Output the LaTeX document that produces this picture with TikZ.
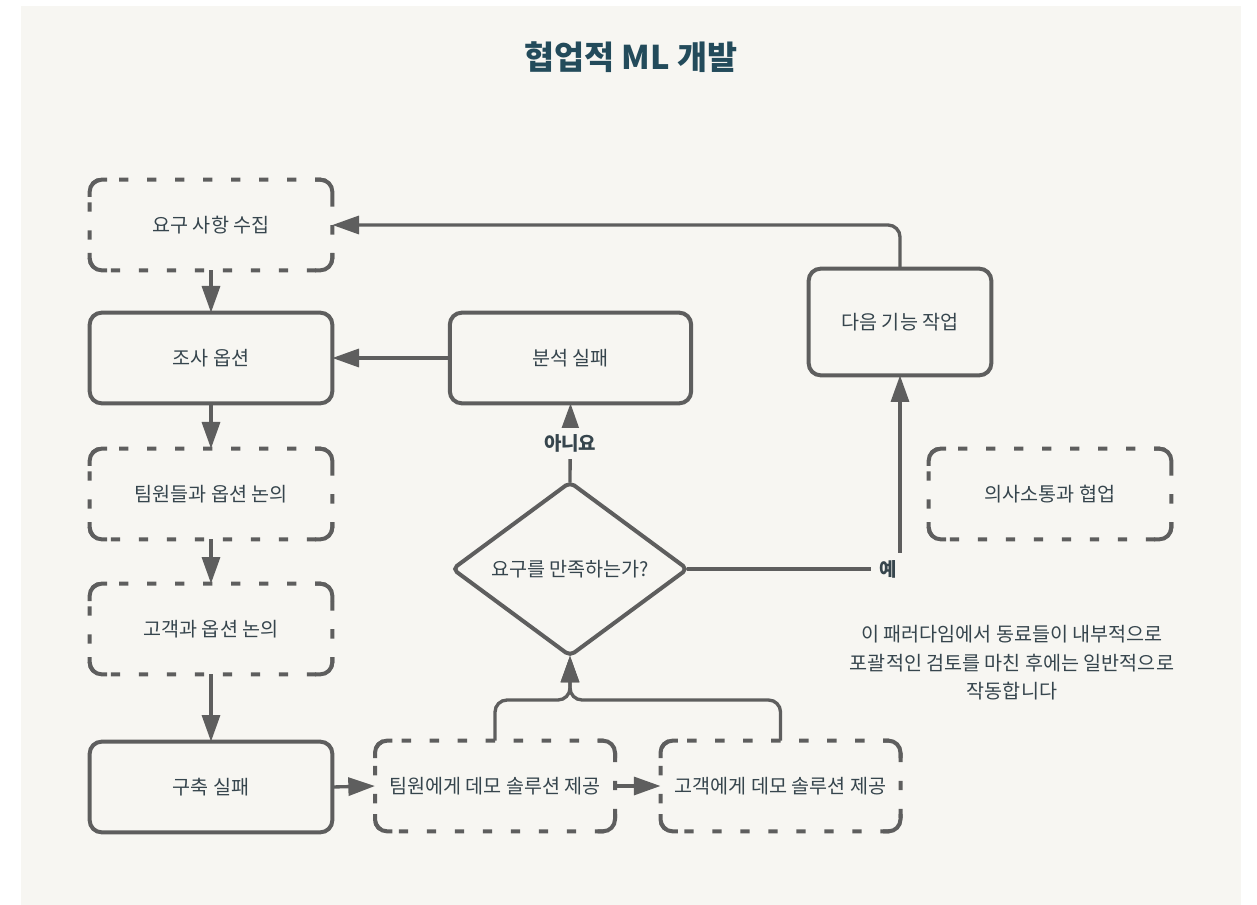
\documentclass[tikz,border=0pt]{standalone}
\usepackage{fontspec}
\setmainfont{Noto Sans CJK KR}
\usetikzlibrary{arrows.meta,shapes.geometric}

\definecolor{panel}{HTML}{F7F6F2}
\definecolor{stroke}{HTML}{5E5E5E}
\definecolor{ink}{HTML}{36454D}
\definecolor{titleink}{HTML}{234B5B}

% solid rounded corners laid over a dashed box
\newcommand\boxcorners[1]{%
  \draw[cornerline] ([yshift=-13pt]#1.north west) |- ([xshift=13pt]#1.north west);
  \draw[cornerline] ([xshift=-13pt]#1.north east) -| ([yshift=-13pt]#1.north east);
  \draw[cornerline] ([yshift=13pt]#1.south west) |- ([xshift=13pt]#1.south west);
  \draw[cornerline] ([xshift=-13pt]#1.south east) -| ([yshift=13pt]#1.south east);
}

\begin{document}
\begin{tikzpicture}[x=0.75pt,y=-0.75pt,
  every node/.style={font=\fontsize{14.7}{18}\selectfont, text=ink},
  box/.style={draw=stroke, line width=3pt, rounded corners=9pt,
    minimum width=182pt, minimum height=68pt, inner sep=0pt, outer sep=0pt},
  dbox/.style={box, dash pattern=on 7pt off 14pt, dash phase=3pt},
  cornerline/.style={draw=stroke, line width=3pt, rounded corners=9pt, line cap=butt},
  link/.style={draw=stroke, line width=2.5pt,
    -{Triangle[length=20pt,width=13.5pt]}},
  lbl/.style={fill=panel, font=\bfseries\fontsize{14.2}{17}\selectfont,
    inner xsep=6pt, inner ysep=5pt}
]
% canvas and panel
\useasboundingbox (0,0) rectangle (1257,905);
\fill[white] (0,0) rectangle (1257,905);
\fill[panel] (21,6) rectangle (1241,905);

% title
\node[font=\bfseries\fontsize{24.5}{28}\selectfont, text=titleink] (title) at (631,57) {협업적 ML 개발};

% left column
\node[dbox] (req)   at (211,225) {요구 사항 수집};
\node[box]  (opt)   at (211,358) {조사 옵션};
\node[dbox] (team)  at (211,494) {팀원들과 옵션 논의};
\node[dbox] (cust)  at (211,629) {고객과 옵션 논의};
\node[box]  (build) at (211,787) {구축 실패};

% middle and right
\node[box, minimum width=181pt] (fail) at (570.5,358) {분석 실패};
\node[diamond, draw=stroke, line width=3pt, rounded corners=4pt,
  minimum width=176pt, minimum height=130pt, inner sep=0pt, outer sep=0pt,
  aspect=1.36] (dec) at (570,569) {요구를 만족하는가?};
\node[box, minimum width=137pt, minimum height=80pt] (next) at (900,322) {다음 기능 작업};
\node[dbox] (comm) at (1050,494) {의사소통과 협업};
\node[dbox, minimum width=180pt] (demo1) at (495,786) {팀원에게 데모 솔루션 제공};
\node[dbox, minimum width=180pt] (demo2) at (780.5,786) {고객에게 데모 솔루션 제공};

\boxcorners{req}
\boxcorners{team}
\boxcorners{cust}
\boxcorners{comm}
\boxcorners{demo1}
\boxcorners{demo2}

% note
\node[align=center, font=\fontsize{14.7}{21.4}\selectfont] (note) at (1012,663)
  {이 패러다임에서 동료들이 내부적으로\\포괄적인 검토를 마친 후에는 일반적으로\\작동합니다};

% connectors
\draw[link] (req.south) -- (opt.north);
\draw[link] (opt.south) -- (team.north);
\draw[link] (team.south) -- (cust.north);
\draw[link] (cust.south) -- (build.north);
\draw[link] (build.east) -- (demo1.west);
\draw[link] (demo1.east) -- (demo2.west);

\coordinate (join) at (570,700);
\draw[link, rounded corners=9pt] (demo1.north) |- (join) -- (dec.south);
\draw[link, rounded corners=9pt] (demo2.north) |- (join) -- (dec.south);

\draw[link] (dec.north) -- node[lbl, pos=0.49] (no) {아니요} (fail.south);
\draw[link] (fail.west) -- (opt.east);

\draw[link] (dec.east) -- (dec.east -| next.south)
  node[lbl, xshift=-9pt] (yes) {예} -- (next.south);
\draw[link, rounded corners=9pt] (next.north) |- (req.east);
\end{tikzpicture}
\end{document}
